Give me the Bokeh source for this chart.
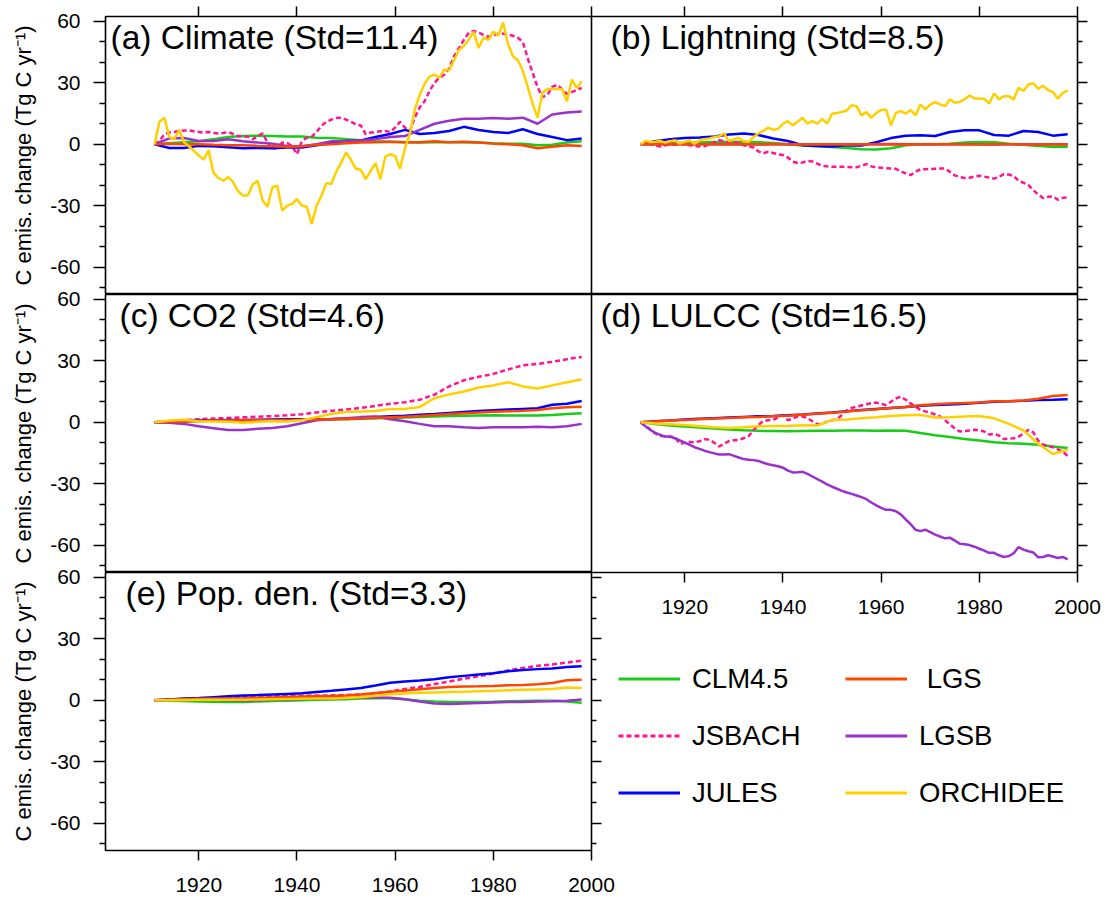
from bokeh.plotting import figure
from bokeh.models import (Range1d, LinearAxis, FixedTicker, CustomJSTickFormatter,
                          Label, Legend, LegendItem)
from bokeh.layouts import row, column
from bokeh.embed import file_html
from bokeh.resources import INLINE

# ---------------- data ----------------
YEARS_ANNUAL = list(range(1911, 1999))      # 88 years
YEARS_3YR = list(range(1911, 1999, 3))      # 30 points

MODELS = ["CLM4.5", "JSBACH", "JULES", "LGS", "LGSB", "ORCHIDEE"]
LEGEND_LABELS = ["CLM4.5", "JSBACH", "JULES", " LGS", "LGSB", "ORCHIDEE"]
TITLES = ["(a) Climate (Std=11.4)", "(b) Lightning (Std=8.5)", "(c) CO2 (Std=4.6)",
          "(d) LULCC (Std=16.5)", "(e) Pop. den. (Std=3.3)"]
Y_LABEL = "C emis. change (Tg C yr\u207b\u00b9)"
Y_MAJOR = [-60, -30, 0, 30, 60]
Y_TICK_LABELS = ["-60", "-30", "0", "30", "60"]
Y_MINOR = [-70, -50, -40, -20, -10, 10, 20, 40, 50]
X_MAJOR = [1920, 1940, 1960, 1980, 2000]
X_TICK_LABELS = ["1920", "1940", "1960", "1980", "2000"]

# (a) Climate
CLIMATE_CLM = [0, 0.5, 1, 1.5, 2.5, 3.5, 4, 4.2, 4, 3.8, 3.8, 3.2, 3, 2.5, 2, 1.5, 1.2, 1, 0.8, 1,
               1, 1, 0.8, 0.5, 0.3, 0.2, -0.5, -0.3, 0.8, 1.5]
CLIMATE_JSBACH = [0, 1.6, 4.9, 5.7, 6, 6.5, 6.7, 6.8, 6.3, 6,
                  5.7, 6, 5.5, 5.3, 5.5, 6, 5, 4, 3.8, 3.7,
                  2.4, 4, 5.3, 1, -2.4, -1.6, 0.8, 0.5, -0.8, -4.9,
                  1.6, 3.2, 3.6, 6, 9, 11, 12, 12.8, 13, 12,
                  11, 9.7, 9.2, 4.9, 5.7, 6, 6.3, 6.5, 6, 8.1,
                  10.9, 8.1, 6.5, 13, 18, 21, 26, 30, 32.5, 34,
                  37, 43, 47, 51, 54.5, 55.3, 54.5, 53.4, 52.5, 53,
                  54, 54, 53.5, 53, 52, 50, 42, 35, 28, 23,
                  24, 28, 29, 27, 24.5, 25.5, 26.5, 27.5]
CLIMATE_JULES = [0, -1.8, -1.8, -0.8, -1, -1.5, -2, -1.8, -2, -1.6, -1.6, -0.5, 0.5, 1.6, 1.8,
                 3.5, 5, 7, 5, 5.5, 6.5, 8.5, 7, 6, 5.5, 7.3, 5, 3.5, 2, 2.8]
CLIMATE_LGS = [0, 0.2, 0, 0, -0.3, -0.5, -0.5, -0.8, -1, -1.2, -1, -0.3, 0, 0.5, 0.8,
               1, 1.2, 1, 1, 1.5, 1, 1.2, 0.8, 0.3, 0, -0.5, -2, -1.2, -0.5, -0.8]
CLIMATE_LGSB = [0, 2.9, 3, 1.6, 1.6, 2.4, 1.5, 0.8, 0.3, -0.8, -1, 0, 1.5, 1.6, 1.8,
                2.5, 3.5, 4, 7, 10, 11.5, 12.5, 12.5, 12.8, 12.5, 13, 10, 14.5, 15.5, 16]
CLIMATE_ORCHIDEE = [0, 11, 13, 3.5, 2.5, 7, 1, -1, -3.2, -5.5,
                    -7.5, -3, -14, -16.5, -17.8, -16, -18.5, -23, -25, -25,
                    -19.7, -17.8, -27.5, -30.5, -21, -20.2, -32.4, -30, -29.2, -26.7,
                    -30, -30.5, -38.9, -30, -25, -19, -19.4, -13.5, -9, -4,
                    -7.6, -12, -12.5, -17, -13, -9.2, -17, -6, -4.9, -5.7,
                    -12, -2, 5, 17, 24, 29.5, 33, 34, 32.5, 36.5,
                    36, 41, 46, 48, 51, 55, 47, 52, 51, 55,
                    53, 59.5, 49, 43, 41, 36, 28, 20, 13, 25,
                    27, 27, 27, 27, 21, 31.6, 27.5, 30.8]

# (b) Lightning
LIGHTNING_CLM = [0, 0.3, 0.5, 0.7, 0.9, 1.1, 1.1, 1.2, 1, 0.6, 0, -0.6, -1, -1.3, -1.8,
                 -2.4, -2.6, -2, -0.5, 0, 0, 0.3, 0.8, 1.1, 1, 0.2, -0.3, -0.8, -1.4, -1.2]
LIGHTNING_JSBACH = [0, 0.5, 0, -0.5, -1.1, -0.5, 0, -0.3, 0.2, 0,
                    -0.5, -0.8, -1.1, -1, 0, 1, 1.9, 1.5, 1, 0.8,
                    0.8, -0.5, -1, -1.6, -3.5, -4.4, -3.7, -4.3, -4.9, -5.3,
                    -6.5, -8.5, -9.2, -8.9, -8.1, -8.4, -9.5, -10.5, -10.8, -11,
                    -11, -11, -11.1, -11.2, -11.3, -10.5, -9.7, -10.8, -11.3, -11.5,
                    -11.7, -11.8, -12, -13.2, -14.2, -15.1, -13.5, -12.2, -12.2, -12.1,
                    -12, -11.9, -11.8, -13.5, -15.2, -16, -16.5, -16.4, -15.8, -15.4,
                    -15.8, -16.3, -16.8, -16, -14.6, -14.8, -15.5, -17.8, -18.8, -20,
                    -22.5, -24.5, -26.3, -25.7, -25.5, -27.1, -26.2, -26]
LIGHTNING_JULES = [0, 1.5, 2.5, 3, 3.3, 3.8, 4.8, 5.3, 4.5, 2.8, 1.6, -0.5, -0.9, -1.1, -0.5,
                   -0.6, 1, 3, 4.2, 4.4, 4, 6, 6.8, 6.8, 4.5, 4.2, 6.5, 6, 4.2, 4.9]
LIGHTNING_LGS = [0, 0.1, 0, 0.1, 0, 0, -0.1, 0, 0, 0.1, 0, -0.1, 0, 0, -0.1,
                 0, 0, 0, -0.1, 0, 0, 0, -0.1, -0.1, 0, 0, -0.1, -0.1, -0.1, -0.1]
LIGHTNING_LGSB = [0, 0, 0.1, 0, 0, 0.1, 0, 0, -0.1, 0, 0, 0, -0.1, 0, 0,
                  0, 0, 0.1, 0, 0, 0, 0, 0, 0, -0.1, 0, 0, 0, 0, 0]
LIGHTNING_ORCHIDEE = [0, 1.6, 1.1, 1.2, 1.6, 0.8, 1.5, 1.9, 0.3, 1.2,
                      1.9, 0.3, 1.9, 2.5, 2.8, 3.5, 3.9, 5.3, 1.6, 2.4,
                      3.2, 1.5, 1.1, 3.5, 5.3, 6.5, 8.1, 7, 7.5, 10,
                      11.3, 9.2, 11, 12.9, 10.1, 11.3, 10.1, 12.4, 10.1, 14.9,
                      15.3, 15.8, 16.5, 19.1, 18.6, 14.1, 15.7, 12.9, 15.3, 16.7,
                      17, 9.2, 15.3, 16.2, 15, 16.7, 14.1, 19.4, 17, 19.4,
                      20.6, 19.5, 18.6, 21.9, 20.3, 20.7, 22, 23.8, 22.4, 22.3,
                      22.2, 19.9, 24.8, 21.9, 23.5, 23.5, 21.9, 27.6, 26, 29.2,
                      29.8, 27.2, 28.5, 26.5, 25.5, 22.2, 25.1, 26.3]

# (c) CO2
CO2_CLM = [0, 0.2, 0.4, 0.6, 0.7, 0.8, 0.9, 1, 1, 1.1, 1.2, 1.3, 1.4, 1.5, 1.7,
           1.9, 2.1, 2.3, 2.5, 2.8, 3, 3.2, 3.3, 3.4, 3.3, 3.3, 3.3, 3.5, 4, 4.4]
CO2_JSBACH = [0, 0.5, 1, 1.5, 1.8, 2.1, 2.4, 2.7, 3, 3.4, 3.9, 4.8, 5.6, 6.2, 7,
              8, 9, 9.8, 11, 13.5, 17.5, 20.5, 22.2, 23.6, 25.8, 27.8, 28.5, 29.5, 30.8, 31.9]
CO2_JULES = [0, 0.3, 0.6, 0.8, 1, 1.1, 1.1, 1.2, 1.3, 1.4, 1.5, 1.5, 1.6, 1.8, 2.1,
             2.5, 2.9, 3.2, 3.6, 4, 4.5, 5, 5.5, 5.9, 6.2, 6.5, 6.8, 8.5, 9, 10.4]
CO2_LGS = [0, 0.2, 0.4, 0.6, 0.8, 0.9, 1, 1, 1, 1.1, 1.2, 1.3, 1.4, 1.6, 1.8,
           2.1, 2.4, 2.7, 3.1, 3.5, 4, 4.4, 4.8, 5.1, 5.4, 5.6, 6, 6.8, 7.3, 7.6]
CO2_LGSB = [0, -0.3, -0.8, -2, -2.9, -3.8, -3.8, -3.2, -2.8, -2, -0.5, 1, 1.5, 2, 2.5,
            2.8, 1.5, 0.5, -0.8, -2, -2, -2.5, -2.8, -2.5, -2.4, -2.4, -2.2, -2.4, -2, -0.8]
CO2_ORCHIDEE = [0, 0.8, 1.2, 0.5, 0.4, 0.3, -0.2, 0.2, 0.5, 0.4, 1, 2.5, 4, 5, 5.2,
                5.5, 6.5, 6.5, 7.5, 11.7, 13.6, 15, 17, 18, 19.5, 17.5, 16.5, 18, 19.5, 20.9]

# (d) LULCC
LULCC_CLM = [0, -0.9, -1.6, -2.1, -2.6, -3, -3.5, -3.9, -4.2, -4.3, -4.4, -4.3, -4.2, -4.1, -4,
             -4, -4.1, -4, -4.2, -5.3, -6.3, -7.2, -8.2, -8.9, -9.8, -10.3, -10.5, -11, -11.8, -12.6]
LULCC_JSBACH = [0, -1.8, -3.6, -5.5, -6.7, -6.8, -7, -7.3, -10.5, -10,
                -9.6, -9.8, -9.3, -8.3, -8.5, -10, -11.8, -10.5, -9.2, -8.8,
                -8.6, -7.8, -6.8, -3.8, -1.3, 0.6, 1, 1.1, 2.5, 3.5,
                1, 1.8, 2.8, 2.8, 2, 0.5, -1, -0.8, 0.3, 1,
                1.5, 3.5, 5.8, 7, 7.6, 8.2, 8.8, 9.3, 9.6, 9,
                8.4, 10, 11.6, 12.5, 11, 9.2, 7.6, 6, 5.3, 4.7,
                3.8, 2.8, 1, -1, -3, -4.5, -4.3, -4, -3.7, -4,
                -4.5, -6, -5.6, -6.5, -8.2, -8, -7.8, -7, -5.5, -3.8,
                -5, -9, -11, -11.5, -12.3, -13.2, -14.3, -16.5]
LULCC_JULES = [0, 0.5, 0.9, 1.3, 1.7, 2, 2.3, 2.6, 2.9, 3.1, 3.4, 3.8, 4.3, 4.8, 5.4,
               6, 6.5, 7, 7.5, 8, 8.4, 8.7, 9, 9.5, 10, 10.3, 10.5, 10.9, 11, 11.2]
LULCC_LGS = [0, 0.4, 0.8, 1.1, 1.5, 1.8, 2.1, 2.4, 2.6, 2.9, 3.2, 3.6, 4.1, 4.6, 5.2,
             5.8, 6.3, 6.9, 7.5, 8.3, 8.8, 9.2, 9.4, 9.7, 10.3, 10.3, 10.6, 11.5, 12.8, 13.3]
LULCC_LGSB = [0, -2, -3.8, -5.2, -6.2, -7, -7.1, -7.8, -8.9, -10,
              -11, -12.2, -13, -13.9, -14.6, -15.2, -15.8, -15.8, -15.6, -16.4,
              -17.2, -18, -18.3, -18.5, -18.9, -19.8, -20.5, -21, -21.5, -22.2,
              -23.6, -24.5, -24.4, -24.2, -25.2, -26.5, -27.8, -29, -30.4, -31.5,
              -32.5, -33.5, -34.3, -35, -35.8, -36.6, -37.6, -39.2, -40.6, -41.8,
              -42.8, -42.8, -43.5, -45, -47.5, -49.8, -52.5, -53.2, -52.5, -53.7,
              -54.9, -55.8, -56.7, -56.4, -57.8, -59.3, -59.6, -60, -60.8, -61.8,
              -62.7, -63.8, -63.8, -65, -65.8, -65.4, -64, -61, -62.2, -63,
              -63.6, -66, -65.8, -65, -65.6, -66.3, -65.8, -67]
LULCC_ORCHIDEE = [0, -0.6, -1, -1.4, -1.9, -2.5, -2.8, -2.5, -2, -1.8, -1.8, -1.5, -1.6, 1, 1.3,
                  1.9, 2.4, 3, 3.4, 3.6, 2.3, 2.4, 2.8, 3, 1.9, -0.8, -4, -10.5, -15.5, -13.4]

# (e) Population density
POP_CLM = [0, -0.2, -0.4, -0.6, -0.7, -0.8, -0.8, -0.6, -0.4, -0.2, 0, 0.2, 0.4, 0.5, 0.8,
           1, 1, 0.5, -0.2, -0.6, -0.8, -0.8, -0.8, -0.7, -0.5, -0.4, -0.3, -0.3, -0.6, -1.2]
POP_JSBACH = [0, 0.3, 0.6, 0.9, 1.1, 1.3, 1.5, 1.7, 1.9, 2, 2.2, 2.3, 2.4, 2.6, 2.8,
              3.3, 4.3, 5.5, 6.5, 7.9, 9.1, 10.5, 11.7, 13, 14.6, 15.8, 16.8, 17.5, 18.4, 19.3]
POP_JULES = [0, 0.4, 0.8, 1.1, 1.5, 1.9, 2.3, 2.5, 2.8, 3.1, 3.4, 4, 4.6, 5.3, 6,
             7.2, 8.5, 9.2, 9.6, 10.2, 11.2, 11.9, 12.6, 13.2, 14.2, 14.8, 15.2, 15.5, 16.2, 16.6]
POP_LGS = [0, 0.2, 0.5, 0.7, 0.8, 0.9, 1, 1.2, 1.4, 1.6, 1.8, 2, 2.1, 2.3, 2.8,
           3.5, 4.2, 4.8, 5.4, 6, 6.5, 6.7, 6.8, 7, 7.3, 7.5, 7.8, 8.4, 9.8, 10]
POP_LGSB = [0, 0.3, 0.6, 0.5, 0.2, 0, -0.1, 0, 0.2, 0.4, 0.6, 0.8, 1, 1.1, 1.3,
            1.4, 1.2, 0.5, -0.6, -1.6, -1.8, -1.6, -1.4, -1.1, -0.9, -0.8, -0.6, -0.5, -0.3, 0.4]
POP_ORCHIDEE = [0, 0, 0.1, 0.2, 0.2, 0.3, 0.3, 0.4, 0.5, 0.6, 0.7, 0.8, 0.9, 1.1, 1.5,
                2.2, 2.9, 3.3, 3.6, 3.8, 4, 4.2, 4.4, 4.6, 4.9, 5.1, 5.3, 5.5, 6.2, 6]

PANELS = [
    {"CLM4.5": (YEARS_3YR, CLIMATE_CLM), "JSBACH": (YEARS_ANNUAL, CLIMATE_JSBACH),
     "JULES": (YEARS_3YR, CLIMATE_JULES), "LGS": (YEARS_3YR, CLIMATE_LGS),
     "LGSB": (YEARS_3YR, CLIMATE_LGSB), "ORCHIDEE": (YEARS_ANNUAL, CLIMATE_ORCHIDEE)},
    {"CLM4.5": (YEARS_3YR, LIGHTNING_CLM), "JSBACH": (YEARS_ANNUAL, LIGHTNING_JSBACH),
     "JULES": (YEARS_3YR, LIGHTNING_JULES), "LGS": (YEARS_3YR, LIGHTNING_LGS),
     "LGSB": (YEARS_3YR, LIGHTNING_LGSB), "ORCHIDEE": (YEARS_ANNUAL, LIGHTNING_ORCHIDEE)},
    {"CLM4.5": (YEARS_3YR, CO2_CLM), "JSBACH": (YEARS_3YR, CO2_JSBACH),
     "JULES": (YEARS_3YR, CO2_JULES), "LGS": (YEARS_3YR, CO2_LGS),
     "LGSB": (YEARS_3YR, CO2_LGSB), "ORCHIDEE": (YEARS_3YR, CO2_ORCHIDEE)},
    {"CLM4.5": (YEARS_3YR, LULCC_CLM), "JSBACH": (YEARS_ANNUAL, LULCC_JSBACH),
     "JULES": (YEARS_3YR, LULCC_JULES), "LGS": (YEARS_3YR, LULCC_LGS),
     "LGSB": (YEARS_ANNUAL, LULCC_LGSB), "ORCHIDEE": (YEARS_3YR, LULCC_ORCHIDEE)},
    {"CLM4.5": (YEARS_3YR, POP_CLM), "JSBACH": (YEARS_3YR, POP_JSBACH),
     "JULES": (YEARS_3YR, POP_JULES), "LGS": (YEARS_3YR, POP_LGS),
     "LGSB": (YEARS_3YR, POP_LGSB), "ORCHIDEE": (YEARS_3YR, POP_ORCHIDEE)},
]

# ---------------- style ----------------
FONT = "Liberation Sans"
COLORS = {"CLM4.5": "#18cc18", "JSBACH": "#ff1493", "JULES": "#0000ff",
          "LGS": "#ff4500", "LGSB": "#9932cc", "ORCHIDEE": "#ffd000"}
DASHES = {"JSBACH": "5 3"}
DRAW_ORDER = ["CLM4.5", "JSBACH", "JULES", "LGSB", "LGS", "ORCHIDEE"]
FW, FH = 486, 278
X_RANGE = (1901, 2000)
Y_RANGE = (-73.4, 62.4)
TITLE_X = [5, 19, 14, 9, 20]
TITLE_DY = 20.5
BORDER_R = 26
OVERLAP_T = 12
BLANK = CustomJSTickFormatter(code="return ''")


def hidden_axis(ticker, tick_len, minor_len):
    return LinearAxis(ticker=ticker, formatter=BLANK, major_label_text_font_size="1px",
                      major_label_standoff=0, axis_line_color=None,
                      major_tick_out=tick_len, major_tick_in=0,
                      minor_tick_out=minor_len, minor_tick_in=0,
                      major_tick_line_color="black", minor_tick_line_color="black",
                      major_tick_line_width=1.5, minor_tick_line_width=1.5)


def make_panel(i, left=False, top=False, right=False, bottom=False, overlap=False):
    kw = {}
    if overlap:
        kw["margin"] = (-OVERLAP_T, 0, 0, 0)
    p = figure(frame_width=FW, frame_height=FH,
               x_range=Range1d(*X_RANGE), y_range=Range1d(*Y_RANGE),
               x_axis_location=None, y_axis_location=None,
               toolbar_location=None, output_backend="svg",
               min_border_left=105 if left else 0, min_border_right=BORDER_R,
               min_border_top=16 if top else (OVERLAP_T if overlap else 0),
               min_border_bottom=40 if bottom else 0, **kw)
    p.grid.visible = False
    p.outline_line_color = "black"
    p.outline_line_width = 1.6
    p.border_fill_color = None
    p.background_fill_color = "white"

    if left:
        ax = LinearAxis(ticker=FixedTicker(ticks=Y_MAJOR, minor_ticks=Y_MINOR),
                        major_label_overrides=dict(zip(Y_MAJOR, Y_TICK_LABELS)),
                        axis_label=Y_LABEL, axis_line_color=None,
                        major_tick_out=12, major_tick_in=0, minor_tick_out=6, minor_tick_in=0,
                        major_tick_line_width=1.5, minor_tick_line_width=1.5,
                        major_tick_line_color="black", minor_tick_line_color="black",
                        major_label_standoff=13, axis_label_standoff=11,
                        major_label_text_font=FONT, major_label_text_font_size="21px",
                        major_label_text_color="black",
                        axis_label_text_font=FONT, axis_label_text_font_size="22px",
                        axis_label_text_font_style="normal", axis_label_text_color="black")
        p.add_layout(ax, "left")
    if right:
        p.add_layout(hidden_axis(FixedTicker(ticks=Y_MAJOR, minor_ticks=Y_MINOR), 10, 5), "right")
    if top:
        p.add_layout(hidden_axis(FixedTicker(ticks=X_MAJOR, minor_ticks=[]), 10, 0), "above")
    if bottom:
        bx = LinearAxis(ticker=FixedTicker(ticks=X_MAJOR, minor_ticks=[]),
                        major_label_overrides=dict(zip(X_MAJOR, X_TICK_LABELS)),
                        axis_line_color=None, major_tick_out=10, major_tick_in=0,
                        minor_tick_out=0, minor_tick_in=0,
                        major_tick_line_width=1.5, major_tick_line_color="black",
                        major_label_standoff=17, major_label_text_font=FONT,
                        major_label_text_font_size="21px", major_label_text_color="black")
        p.add_layout(bx, "below")

    for m in DRAW_ORDER:
        xs, ys = PANELS[i][m]
        p.line(x=xs, y=ys, line_color=COLORS[m], line_width=2.5,
               line_dash=DASHES.get(m, "solid"))

    p.add_layout(Label(x=TITLE_X[i], y=FH - TITLE_DY, x_units="screen", y_units="screen",
                       text=TITLES[i], text_font=FONT, text_font_size="33.5px",
                       text_baseline="middle", text_align="left", text_color="black"))
    return p


pa = make_panel(0, left=True, top=True)
pb = make_panel(1, top=True, right=True)
pc = make_panel(2, left=True, overlap=True)
pd = make_panel(3, right=True, bottom=True)
pe = make_panel(4, left=True, right=True, bottom=True, overlap=True)

# legend figure (its proxy lines lie outside its own 0..1 ranges, so only the legend shows)
pf = figure(frame_width=FW, frame_height=240, x_range=Range1d(0, 1), y_range=Range1d(0, 1),
            x_axis_location=None, y_axis_location=None, toolbar_location=None,
            output_backend="svg", min_border_left=0, min_border_right=BORDER_R,
            min_border_top=7, min_border_bottom=0)
pf.grid.visible = False
pf.outline_line_color = None
pf.background_fill_color = None
pf.border_fill_color = None
items = []
for m, lab in zip(MODELS, LEGEND_LABELS):
    xs, ys = PANELS[4][m]
    r = pf.line(x=xs, y=ys, line_color=COLORS[m], line_width=3,
                line_dash=DASHES.get(m, "solid"))
    items.append(LegendItem(label=lab, renderers=[r]))
leg = Legend(items=items, ncols=2, orientation="vertical", location="top_left",
             glyph_width=62, glyph_height=57, label_height=57, label_width=153,
             label_standoff=12, spacing=0, padding=0, margin=27,
             border_line_color=None, background_fill_alpha=0,
             label_text_font=FONT, label_text_font_size="27.5px", label_text_color="black")
pf.add_layout(leg)

left_col = column(pa, pc, pe)
right_col = column(pb, pd, pf, margin=(0, 0, 0, -BORDER_R))
root = row(left_col, right_col)

open("out.html", "w").write(file_html(root, INLINE))
